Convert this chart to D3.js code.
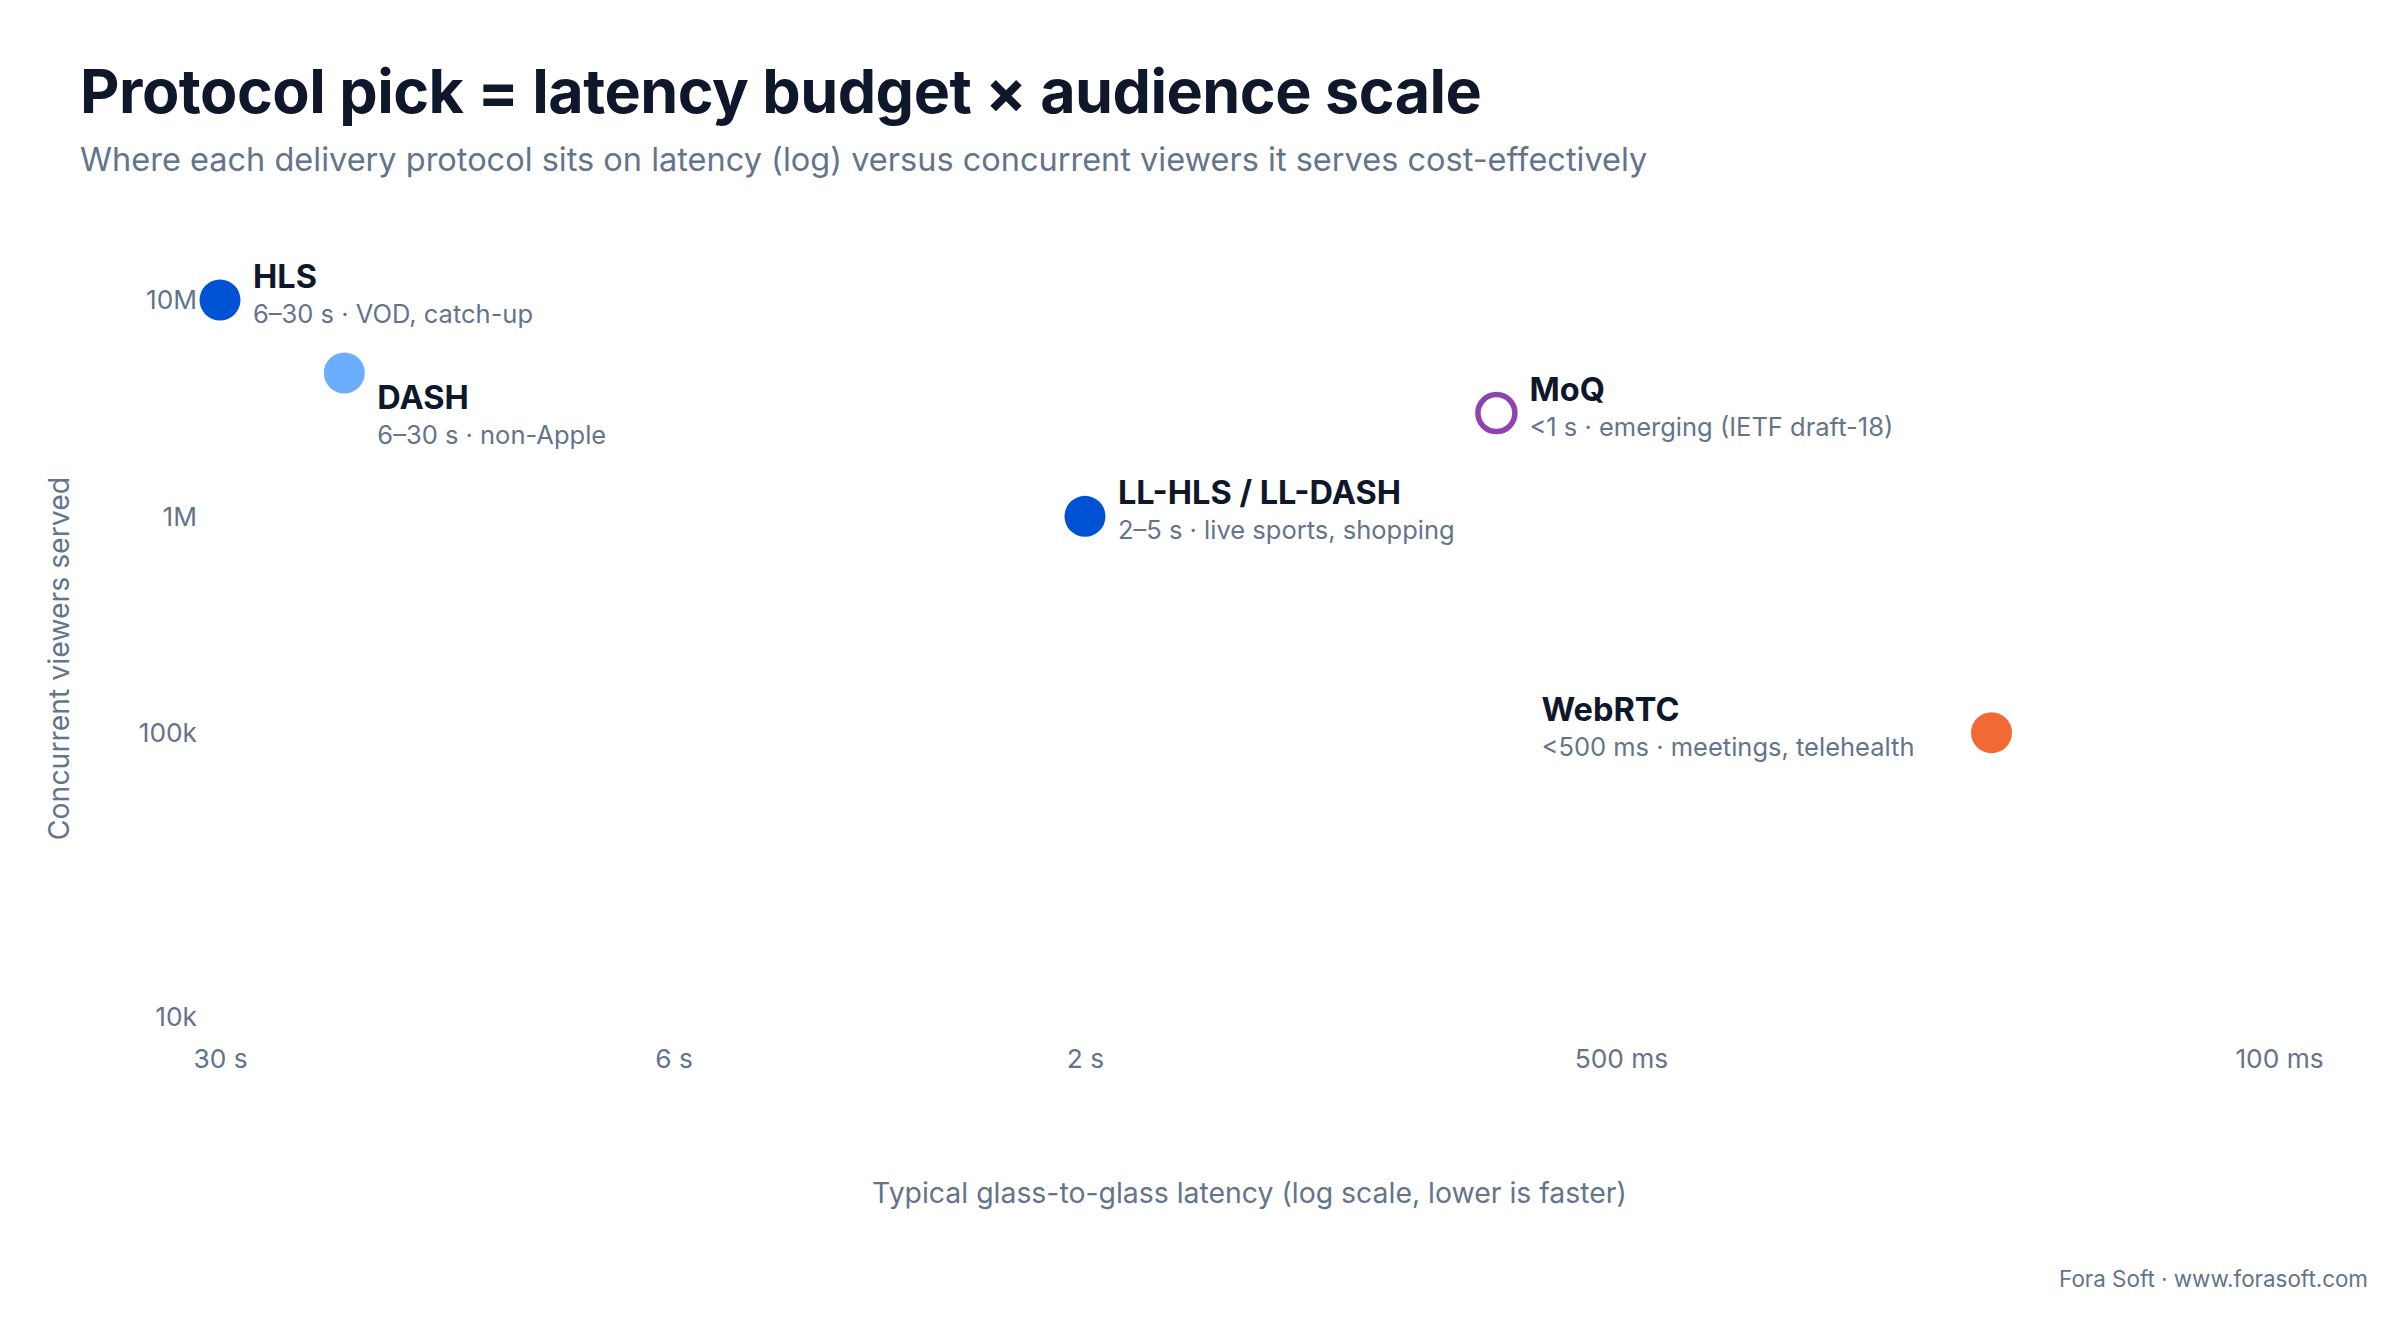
<!DOCTYPE html>
<html>
<head>
<meta charset="utf-8">
<script src="https://cdn.jsdelivr.net/npm/d3@7"></script>
<style>
  html, body { margin: 0; padding: 0; background: #ffffff; }
  svg { display: block; font-family: Inter, "Noto Sans", sans-serif; }
</style>
</head>
<body>
<svg id="chart" width="2400" height="1320"></svg>
<script>
// ---------- data ----------
const protocols   = ["HLS", "DASH", "LL-HLS / LL-DASH", "MoQ", "WebRTC"];
const latencyMs   = [30000, 19300, 2000, 690, 202];
const viewers     = [10000000, 4600000, 1000000, 3000000, 100000];
const notes       = ["6–30 s · VOD, catch-up", "6–30 s · non-Apple", "2–5 s · live sports, shopping",
                     "<1 s · emerging (IETF draft-18)", "<500 ms · meetings, telehealth"];
const xTickValues = [30000, 6000, 2000, 500, 100];
const xTickLabels = ["30 s", "6 s", "2 s", "500 ms", "100 ms"];
const yTickValues = [10000, 100000, 1000000, 10000000];
const yTickLabels = ["10k", "100k", "1M", "10M"];

const titleText    = "Protocol pick = latency budget × audience scale";
const subtitleText = "Where each delivery protocol sits on latency (log) versus concurrent viewers it serves cost-effectively";
const xTitle       = "Typical glass-to-glass latency (log scale, lower is faster)";
const yTitle       = "Concurrent viewers served";
const footerText   = "Fora Soft · www.forasoft.com";

// ---------- styles / layout ----------
const colors  = {"HLS": "#0052d4", "DASH": "#6aaefd", "LL-HLS / LL-DASH": "#0052d4", "MoQ": "#8e44ad", "WebRTC": "#f26a33"};
const hollow  = {"MoQ": true};
// label placement: [dx, dy of name baseline, dy of note baseline]
const labelPos = {
  "HLS": [33, -12, 23],
  "DASH": [33, 36, 71],
  "LL-HLS / LL-DASH": [33, -12, 23],
  "MoQ": [33, -12, 23],
  "WebRTC": [-450, -12, 23]
};
const plot = {left: 220, right: 2279, top: 300, bottom: 1017};
const xFrac = [0, 0.2203, 0.4201, 0.6804, 1];     // axis layout of the latency ticks
const yFrac = [1, 0.6034, 0.3017, 0];             // axis layout of the viewer ticks (from top)
const ink = "#0f172a", muted = "#64748b";

const svg = d3.select("#chart");
svg.append("rect").attr("width", 2400).attr("height", 1320).attr("fill", "#ffffff");

const x = d3.scaleLog()
  .domain(xTickValues)
  .range(xFrac.map(f => plot.left + f * (plot.right - plot.left)));
const y = d3.scaleLog()
  .domain(yTickValues)
  .range(yFrac.map(f => plot.top + f * (plot.bottom - plot.top)));

// title
svg.append("text").attr("x", 80).attr("y", 113)
  .attr("font-size", 61).attr("font-weight", 700).attr("fill", ink)
  .attr("letter-spacing", -0.5)
  .text(titleText);
svg.append("text").attr("x", 80).attr("y", 171)
  .attr("font-size", 32.5).attr("fill", muted)
  .text(subtitleText);

// axes
const xAxis = svg.append("g").attr("transform", `translate(0,${plot.bottom})`)
  .call(d3.axisBottom(x).tickValues(xTickValues).tickFormat((d, i) => xTickLabels[i]).tickSize(0).tickPadding(0));
xAxis.select(".domain").remove();
xAxis.selectAll("text").attr("dy", null).attr("y", 51)
  .attr("font-size", 26.3).attr("fill", muted).attr("font-family", "Inter, sans-serif");

const yAxis = svg.append("g").attr("transform", `translate(${plot.left},0)`)
  .call(d3.axisLeft(y).tickValues(yTickValues).tickFormat((d, i) => yTickLabels[i]).tickSize(0).tickPadding(23));
yAxis.select(".domain").remove();
yAxis.selectAll("text").attr("dy", "0.34em")
  .attr("font-size", 26.3).attr("fill", muted).attr("font-family", "Inter, sans-serif");

// axis titles
svg.append("text").attr("x", (plot.left + plot.right) / 2).attr("y", 1203)
  .attr("text-anchor", "middle").attr("font-size", 28.4).attr("fill", muted).text(xTitle);
svg.append("text").attr("transform", `translate(69,${(plot.top + plot.bottom) / 2}) rotate(-90)`)
  .attr("text-anchor", "middle").attr("font-size", 28.4).attr("fill", muted).text(yTitle);

// points
const rows = protocols.map((p, i) => ({name: p, lat: latencyMs[i], v: viewers[i], note: notes[i]}));
const pts = svg.append("g");
pts.selectAll("circle").data(rows).join("circle")
  .attr("cx", d => x(d.lat)).attr("cy", d => y(d.v))
  .attr("r", d => hollow[d.name] ? 18.5 : 20.5)
  .attr("fill", d => hollow[d.name] ? "#ffffff" : colors[d.name])
  .attr("stroke", d => hollow[d.name] ? colors[d.name] : "none")
  .attr("stroke-width", d => hollow[d.name] ? 5.5 : 0);

const lab = svg.append("g");
lab.selectAll("text.name").data(rows).join("text").attr("class", "name")
  .attr("x", d => x(d.lat) + labelPos[d.name][0])
  .attr("y", d => y(d.v) + labelPos[d.name][1])
  .attr("font-size", 32.5).attr("font-weight", 700).attr("fill", ink)
  .text(d => d.name);
lab.selectAll("text.note").data(rows).join("text").attr("class", "note")
  .attr("x", d => x(d.lat) + labelPos[d.name][0])
  .attr("y", d => y(d.v) + labelPos[d.name][2])
  .attr("font-size", 25.5).attr("fill", muted)
  .text(d => d.note);

// footer
svg.append("text").attr("x", 2368).attr("y", 1287).attr("text-anchor", "end")
  .attr("font-size", 22.4).attr("fill", muted).text(footerText);
</script>
</body>
</html>
